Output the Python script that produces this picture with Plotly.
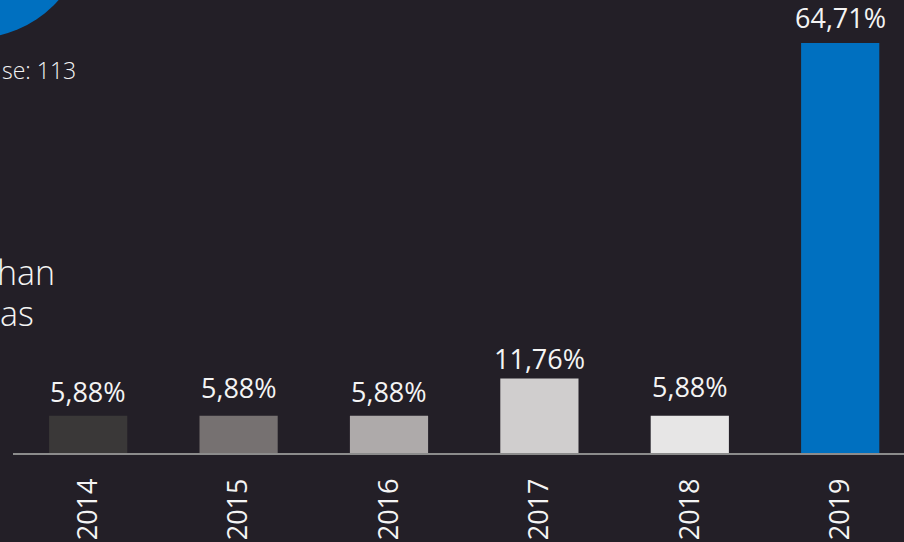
import plotly.graph_objects as go

years = ["2014", "2015", "2016", "2017", "2018", "2019"]
values = [5.88, 5.88, 5.88, 11.76, 5.88, 64.71]
bar_colors = ["#3A3838", "#767171", "#AEAAAA", "#D0CECE", "#E7E6E6", "#0070C0"]
label_shift = [4, 8, 4, -1, 9, 5]
side_texts = ["se: 113", "han", "as"]

W, H = 904, 542
ML, MB = 13, 89
PW, PH = W - ML, H - MB
FONT = "Open Sans"
BG = "#231F27"

def px(x):
    return (x - ML) / PW

def py(y):
    return (PH - y) / PH

labels = [f"{v:.2f}".replace(".", ",") + "%" for v in values]

fig = go.Figure(go.Bar(
    x=years, y=values, marker=dict(color=bar_colors, line=dict(width=0)),
    width=0.52, hoverinfo="skip",
))

annotations = []
for i, (v, t, s) in enumerate(zip(values, labels, label_shift)):
    annotations.append(dict(
        x=i, y=v, xref="x", yref="y", text=t, showarrow=False,
        yanchor="bottom", yshift=s,
        font=dict(family=FONT, size=27, color="#F4F4F4"),
    ))

# partial side texts (clipped at left edge)
side_pos = [(78, 70, 23), (57, 272, 34), (36, 313, 34)]
for t, (x, y, s) in zip(side_texts, side_pos):
    annotations.append(dict(
        x=px(x), y=py(y), xref="paper", yref="paper", text=t, showarrow=False,
        xanchor="right", yanchor="middle",
        font=dict(family=FONT, size=s, color="#F4F4F4", weight=300),
    ))

fig.update_layout(
    width=W, height=H,
    margin=dict(l=ML, r=0, t=0, b=MB, pad=0),
    paper_bgcolor=BG, plot_bgcolor=BG,
    showlegend=False,
    annotations=annotations,
    shapes=[dict(
        type="circle", xref="paper", yref="paper",
        xsizemode="pixel", ysizemode="pixel",
        xanchor=px(-25), yanchor=py(-73),
        x0=-111, x1=111, y0=-111, y1=111,
        fillcolor="#0070C0", line=dict(width=0), layer="below",
    )],
    xaxis=dict(
        type="category", range=[-0.5, -0.5 + PW / 150.4],
        showline=True, linecolor="#8C8C8C", linewidth=1.5,
        showgrid=False, zeroline=False, ticks="",
        tickangle=-90, ticklabelstandoff=13,
        tickfont=dict(family=FONT, size=27, color="#F4F4F4"),
    ),
    yaxis=dict(
        range=[0, PH / 6.336], visible=False, showgrid=False, zeroline=False,
    ),
)

fig.write_html(
    "out.html",
    config={"displayModeBar": False},
    post_script="document.body.style.margin='0';document.body.style.overflow='hidden';",
)
